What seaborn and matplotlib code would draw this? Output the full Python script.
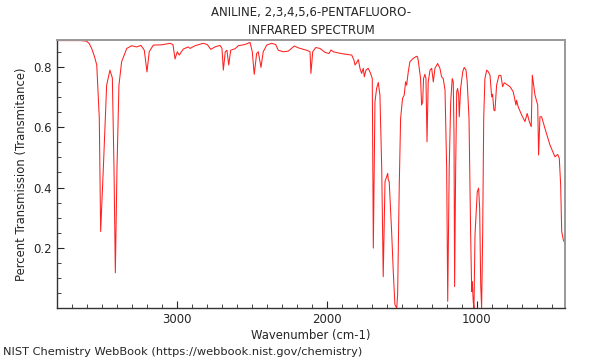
import matplotlib
matplotlib.use("Agg")
import matplotlib.pyplot as plt
import seaborn as sns
import pandas as pd
from matplotlib.ticker import MultipleLocator

title_lines = ["ANILINE, 2,3,4,5,6-PENTAFLUORO-", "INFRARED SPECTRUM"]
x_label = "Wavenumber (cm-1)"
y_label = "Percent Transmission (Transmitance)"
footer = "NIST Chemistry WebBook (https://webbook.nist.gov/chemistry)"
x_ticks = [3000, 2000, 1000]
y_ticks = [0.2, 0.4, 0.6, 0.8]

wavenumber = [
    3800, 3700, 3640, 3602, 3585, 3569, 3550, 3535, 3518, 3509, 3491, 3469, 3447, 3431,
    3420, 3411, 3400, 3387, 3369, 3335, 3302, 3269, 3240, 3218, 3200, 3185, 3158,
    3102, 3047, 3027, 3013, 2998, 2985, 2958, 2925, 2913, 2880, 2825, 2798, 2775,
    2747, 2713, 2700, 2691, 2678, 2667, 2655, 2642, 2613, 2591, 2547, 2513,
    2498, 2485, 2469, 2458, 2440, 2425, 2402, 2369, 2342, 2325, 2291, 2258, 2218,
    2191, 2158, 2135, 2113, 2107, 2095, 2075, 2047, 2013, 1987, 1973, 1958, 1925,
    1880, 1835, 1820, 1813, 1802, 1791, 1780, 1769, 1758, 1751, 1740, 1725, 1709,
    1698, 1691, 1680, 1669, 1658, 1647, 1635, 1625, 1613, 1602, 1595, 1591, 1585,
    1569, 1558, 1547, 1535, 1529, 1518, 1509, 1496, 1485, 1476, 1469, 1458, 1447,
    1425, 1402, 1396, 1391, 1376, 1369, 1362, 1356, 1347, 1340, 1333, 1325, 1313,
    1302, 1291, 1280, 1262, 1247, 1236, 1225, 1213, 1202, 1195, 1185, 1175, 1165,
    1158, 1153, 1149, 1142, 1135, 1129, 1122, 1118, 1109, 1095, 1085, 1073, 1065,
    1053, 1042, 1035, 1031, 1025, 1020, 1013, 1007, 998, 989, 982, 975, 969, 962,
    955, 947, 935, 925, 913, 902, 896, 887, 880, 869, 853, 840, 829, 818, 780, 758,
    740, 736, 725, 702, 680, 665, 651, 638, 631, 613, 595, 589, 580, 569, 547, 513,
    480, 462, 451, 442, 435, 424, 413,
]
transmittance = [
    0.888, 0.888, 0.888, 0.886, 0.878, 0.862, 0.835, 0.807, 0.631, 0.254, 0.465, 0.740, 0.790, 0.764,
    0.465, 0.117, 0.465, 0.740, 0.818, 0.862, 0.871, 0.867, 0.872, 0.856, 0.784, 0.851, 0.873,
    0.874, 0.879, 0.875, 0.827, 0.851, 0.840, 0.860, 0.867, 0.862, 0.871, 0.879, 0.875, 0.859,
    0.867, 0.872, 0.862, 0.790, 0.851, 0.856, 0.807, 0.856, 0.861, 0.871, 0.875, 0.882,
    0.851, 0.776, 0.845, 0.851, 0.799, 0.851, 0.873, 0.879, 0.875, 0.856, 0.851, 0.853, 0.870,
    0.864, 0.859, 0.856, 0.851, 0.779, 0.851, 0.865, 0.862, 0.849, 0.845, 0.857, 0.851, 0.847,
    0.843, 0.840, 0.823, 0.807, 0.815, 0.825, 0.796, 0.779, 0.796, 0.768, 0.790, 0.796, 0.779,
    0.762, 0.199, 0.685, 0.729, 0.749, 0.707, 0.464, 0.104, 0.420, 0.436, 0.447, 0.425, 0.420,
    0.254, 0.121, 0.011, 0.000, 0.044, 0.409, 0.630, 0.696, 0.707, 0.751, 0.740, 0.784, 0.818,
    0.829, 0.836, 0.834, 0.820, 0.762, 0.674, 0.684, 0.762, 0.776, 0.762, 0.552, 0.751, 0.790,
    0.796, 0.751, 0.796, 0.812, 0.796, 0.768, 0.762, 0.724, 0.464, 0.022, 0.464, 0.685, 0.762,
    0.751, 0.574, 0.071, 0.464, 0.718, 0.729, 0.707, 0.635, 0.729, 0.784, 0.799, 0.790, 0.751,
    0.630, 0.243, 0.055, 0.088, 0.022, 0.000, 0.243, 0.298, 0.386, 0.398, 0.331, 0.077, 0.000, 0.243,
    0.630, 0.762, 0.790, 0.785, 0.773, 0.701, 0.710, 0.657, 0.655, 0.740, 0.773, 0.772, 0.735, 0.748, 0.735, 0.718,
    0.674, 0.690, 0.668, 0.641, 0.619, 0.646, 0.619, 0.602, 0.773, 0.707, 0.674, 0.508, 0.635, 0.635, 0.597, 0.541,
    0.502, 0.510, 0.497, 0.409, 0.254, 0.226, 0.215,
]

df = pd.DataFrame({"wn": wavenumber, "T": transmittance})

sns.set_style("white")
plt.rcParams["font.family"] = ["DejaVu Sans"]

fig = plt.figure(figsize=(6, 3.6), dpi=100)
ax = fig.add_axes([57 / 600, 1 - 308 / 360, (565 - 57) / 600, (308 - 40) / 360])

sns.lineplot(data=df, x="wn", y="T", sort=False, estimator=None, color="#ff2020",
             linewidth=0.75, ax=ax)

ax.set_xlim(3800, 413)
ax.set_ylim(0.0, 0.89)
ax.set_xticks(x_ticks)
ax.set_yticks(y_ticks)
ax.xaxis.set_minor_locator(MultipleLocator(100))
ax.yaxis.set_minor_locator(MultipleLocator(0.05))
ax.tick_params(axis="both", which="both", direction="in", labelsize=8.5,
               bottom=True, left=True, top=False, right=False)
ax.tick_params(which="major", length=5)
ax.tick_params(which="minor", length=3)
for s in ["top", "right"]:
    ax.spines[s].set_color("#999999")
    ax.spines[s].set_linewidth(1.4)
for s in ["left", "bottom"]:
    ax.spines[s].set_color("#333333")
    ax.spines[s].set_linewidth(1.0)

ax.set_xlabel(x_label, fontsize=8.4, labelpad=2)
ax.set_ylabel(y_label, fontsize=8.4, labelpad=4)
ax.set_title("\n".join(title_lines), fontsize=8.5, linespacing=1.5, pad=4)
fig.text(3 / 600, 1 - 352 / 360, footer, fontsize=8.2, ha="left", va="center")

fig.savefig("out.png", dpi=100)
